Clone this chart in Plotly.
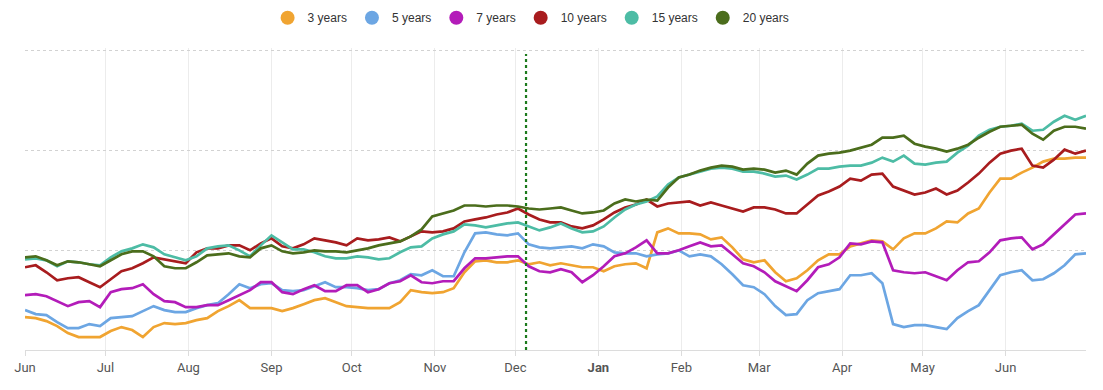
import pandas as pd
import plotly.graph_objects as go

dates = pd.date_range("2023-06-01", periods=100, freq="4D")

y3 = [0.33,0.32,0.29,0.24,0.17,0.13,0.13,0.13,0.19,0.23,
      0.20,0.13,0.23,0.27,0.26,0.27,0.30,0.32,0.39,0.44,
      0.50,0.42,0.42,0.42,0.39,0.42,0.46,0.50,0.52,0.48,
      0.44,0.43,0.42,0.42,0.42,0.48,0.60,0.58,0.57,0.58,
      0.62,0.78,0.89,0.90,0.88,0.88,0.90,0.86,0.88,0.85,
      0.87,0.85,0.83,0.83,0.79,0.84,0.86,0.87,0.82,1.18,
      1.22,1.17,1.17,1.16,1.11,1.13,1.03,0.91,0.88,0.90,
      0.78,0.69,0.72,0.80,0.90,0.96,0.96,1.04,1.07,1.10,
      1.09,1.01,1.12,1.17,1.17,1.22,1.29,1.28,1.37,1.42,
      1.58,1.72,1.72,1.78,1.83,1.89,1.92,1.92,1.93,1.93]

y5 = [0.40,0.36,0.35,0.28,0.22,0.22,0.26,0.24,0.32,0.33,
      0.34,0.39,0.44,0.40,0.38,0.38,0.42,0.45,0.47,0.56,
      0.66,0.62,0.66,0.67,0.60,0.59,0.60,0.64,0.68,0.63,
      0.63,0.62,0.60,0.61,0.67,0.70,0.76,0.75,0.80,0.74,
      0.74,0.98,1.17,1.18,1.16,1.15,1.17,1.06,1.03,1.02,
      1.03,1.04,1.02,1.06,1.04,0.98,0.97,0.97,0.94,0.96,
      0.97,1.00,0.94,0.96,0.94,0.86,0.76,0.65,0.63,0.56,
      0.44,0.35,0.36,0.50,0.57,0.59,0.61,0.75,0.75,0.77,
      0.67,0.26,0.23,0.25,0.25,0.23,0.21,0.32,0.39,0.45,
      0.60,0.75,0.78,0.80,0.70,0.71,0.77,0.85,0.96,0.97]

y7 = [0.55,0.56,0.54,0.49,0.44,0.48,0.49,0.43,0.58,0.61,
      0.62,0.66,0.56,0.49,0.48,0.43,0.43,0.45,0.45,0.50,
      0.55,0.60,0.68,0.68,0.58,0.56,0.61,0.65,0.59,0.59,
      0.65,0.65,0.58,0.61,0.67,0.69,0.75,0.68,0.67,0.69,
      0.69,0.82,0.92,0.92,0.93,0.94,0.94,0.84,0.79,0.78,
      0.81,0.78,0.68,0.75,0.84,0.94,0.97,1.03,1.10,0.97,
      0.97,1.00,1.04,1.08,1.04,1.05,0.96,0.87,0.84,0.78,
      0.69,0.64,0.59,0.70,0.83,0.86,0.93,1.07,1.06,1.09,
      1.08,0.80,0.78,0.77,0.78,0.74,0.70,0.80,0.88,0.89,
      0.98,1.10,1.12,1.13,1.01,1.06,1.16,1.26,1.36,1.37]

y10 = [0.83,0.85,0.78,0.70,0.72,0.73,0.68,0.63,0.71,0.79,
       0.82,0.87,0.93,0.91,0.89,0.87,0.98,1.02,1.02,1.05,
       1.05,1.00,1.07,1.12,1.04,1.02,1.06,1.12,1.10,1.08,
       1.05,1.12,1.10,1.11,1.13,1.09,1.14,1.19,1.18,1.19,
       1.22,1.29,1.31,1.33,1.36,1.38,1.42,1.36,1.31,1.28,
       1.28,1.24,1.22,1.25,1.31,1.38,1.43,1.46,1.51,1.44,
       1.47,1.48,1.49,1.45,1.48,1.45,1.42,1.39,1.43,1.43,
       1.41,1.37,1.37,1.46,1.55,1.59,1.64,1.72,1.70,1.76,
       1.77,1.64,1.60,1.56,1.58,1.62,1.56,1.60,1.68,1.77,
       1.88,1.97,2.00,2.02,1.85,1.83,1.91,2.01,1.97,2.00]

y15 = [0.91,0.92,0.90,0.84,0.89,0.88,0.86,0.85,0.93,0.99,
       1.02,1.06,1.03,0.96,0.93,0.90,0.94,1.02,1.04,1.05,
       1.00,0.94,1.05,1.15,1.08,1.01,1.01,0.98,0.94,0.92,
       0.92,0.94,0.93,0.91,0.92,0.98,1.03,1.04,1.12,1.16,
       1.19,1.26,1.25,1.23,1.25,1.27,1.28,1.24,1.20,1.23,
       1.27,1.22,1.18,1.19,1.24,1.33,1.41,1.46,1.49,1.54,
       1.66,1.73,1.76,1.79,1.82,1.83,1.82,1.79,1.79,1.77,
       1.74,1.75,1.71,1.76,1.82,1.82,1.84,1.85,1.85,1.88,
       1.93,1.89,1.95,1.87,1.86,1.88,1.89,1.98,2.05,2.15,
       2.21,2.24,2.25,2.27,2.20,2.21,2.29,2.35,2.31,2.35]

y20 = [0.93,0.94,0.90,0.85,0.89,0.88,0.86,0.84,0.90,0.96,
       0.99,0.99,0.94,0.84,0.82,0.82,0.88,0.95,0.96,0.97,
       0.94,0.93,1.02,1.05,0.99,0.97,0.98,1.00,0.99,0.99,
       0.98,1.00,1.02,1.05,1.07,1.09,1.14,1.21,1.34,1.37,
       1.40,1.45,1.45,1.44,1.45,1.45,1.44,1.42,1.41,1.42,
       1.43,1.40,1.37,1.38,1.40,1.47,1.51,1.49,1.51,1.50,
       1.63,1.73,1.76,1.80,1.83,1.85,1.84,1.81,1.82,1.81,
       1.78,1.80,1.76,1.87,1.95,1.97,1.98,2.00,2.03,2.06,
       2.13,2.13,2.15,2.07,2.04,2.02,1.99,2.02,2.06,2.13,
       2.19,2.24,2.25,2.26,2.17,2.11,2.20,2.24,2.24,2.22]

series_names = ["3 years", "5 years", "7 years", "10 years", "15 years", "20 years"]
series_values = [y3, y5, y7, y10, y15, y20]
series_colors = ["#F0A431", "#6CA6E3", "#B31CB9", "#A81C1E", "#4DBCA5", "#4B6D1C"]

month_ticks = ["2023-06-01", "2023-07-01", "2023-08-01", "2023-09-01", "2023-10-01",
               "2023-11-01", "2023-12-01", "2024-01-01", "2024-02-01", "2024-03-01",
               "2024-04-01", "2024-05-01", "2024-06-01"]
month_labels = ["Jun", "Jul", "Aug", "Sep", "Oct", "Nov", "Dec",
                "<b>Jan</b>", "Feb", "Mar", "Apr", "May", "Jun"]
marker_date = "2023-12-05"

fig = go.Figure()
for name, vals, col in zip(series_names, series_values, series_colors):
    fig.add_trace(go.Scatter(x=dates, y=vals, mode="lines", name=name,
                             line=dict(color=col, width=2.7), showlegend=False))
for name, col in zip(series_names, series_colors):
    fig.add_trace(go.Scatter(x=[None], y=[None], mode="markers", name=name,
                             marker=dict(color=col, size=14, symbol="circle")))

fig.add_shape(type="line", xref="x", yref="y", x0=marker_date, x1=marker_date,
              y0=0, y1=2.97, line=dict(color="#1C7A1C", width=2.2, dash="dot"))

fig.update_layout(
    width=1103, height=390,
    margin=dict(l=25, r=17, t=48, b=40, autoexpand=False),
    paper_bgcolor="white", plot_bgcolor="white",
    font=dict(family="Roboto, Arial, sans-serif", color="#555"),
    legend=dict(orientation="h", x=0.477, xanchor="center", y=1.10, yanchor="middle",
                font=dict(family="Liberation Sans, Arial, sans-serif", size=12, color="#333"),
                itemwidth=30, tracegroupgap=0, bgcolor="rgba(0,0,0,0)"),
    showlegend=True,
)
fig.update_xaxes(range=["2023-06-01", "2024-07-01"], tickvals=month_ticks, ticktext=month_labels,
                 showgrid=True, gridcolor="#ececec", gridwidth=1,
                 showline=True, linecolor="#dcdcdc", linewidth=1,
                 ticks="outside", ticklen=5, tickcolor="#dcdcdc",
                 tickfont=dict(family="Roboto, Arial, sans-serif", size=13, color="#555"),
                 zeroline=False)
fig.update_yaxes(range=[0, 3.03], dtick=1, tick0=0, showticklabels=False,
                 showgrid=True, gridcolor="#d2d2d2", griddash="dot", gridwidth=1,
                 zeroline=False, showline=False)

fig.write_html("out.html", config={"displayModeBar": False},
               post_script="document.body.style.margin='0';")
